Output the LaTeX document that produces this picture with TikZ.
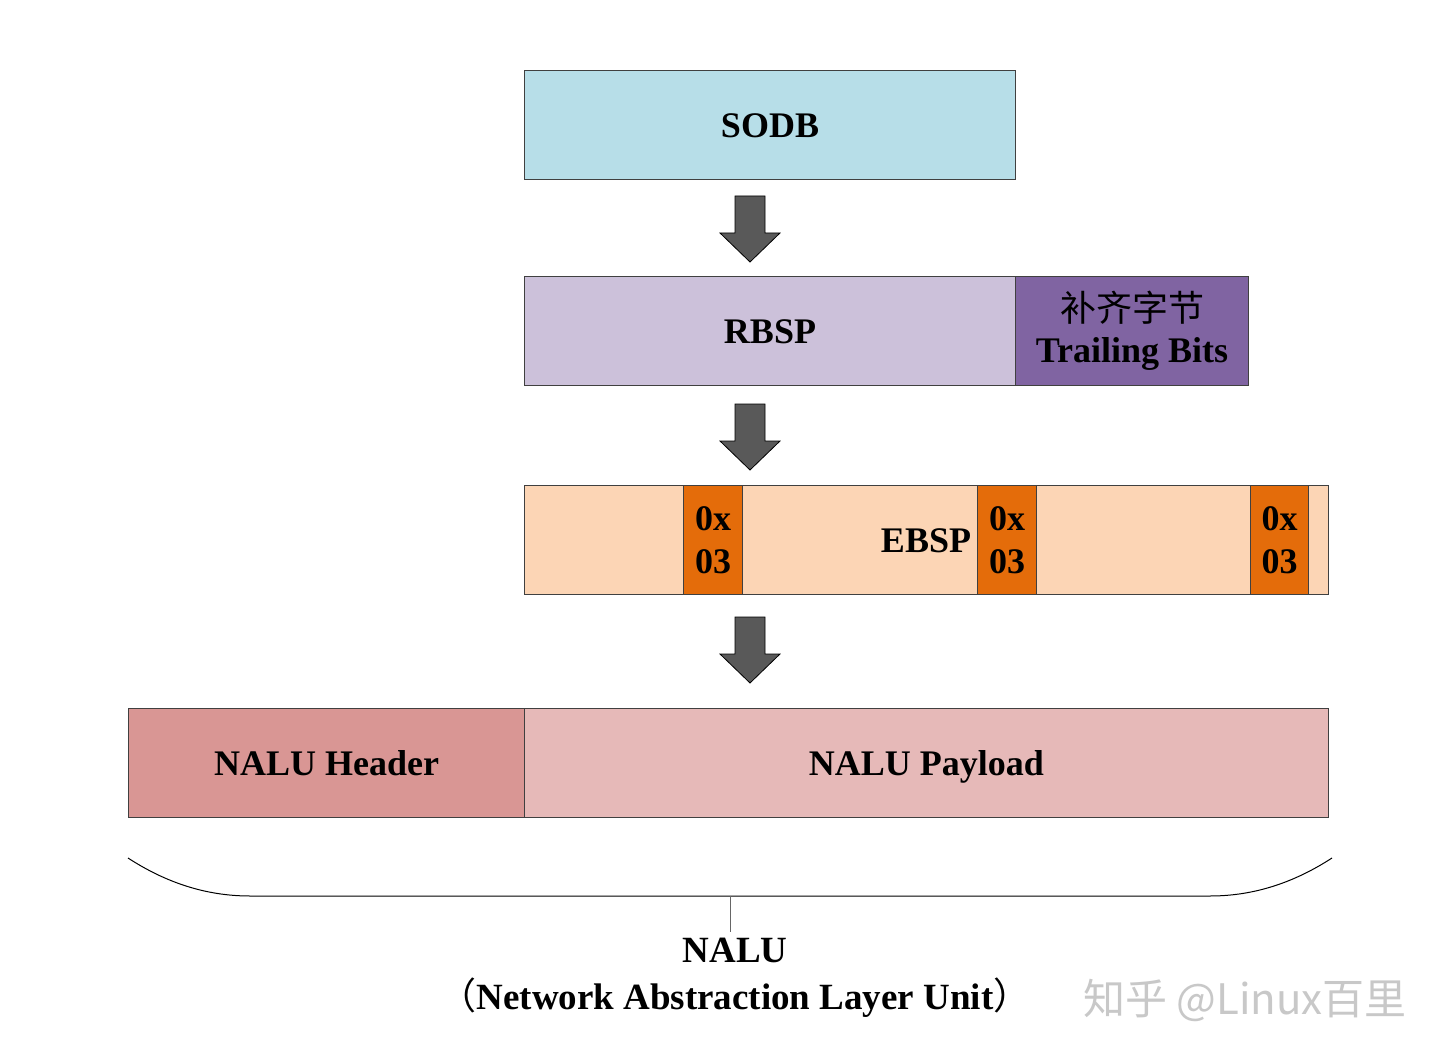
\documentclass[tikz,border=0pt]{standalone}
\usepackage{fontspec}
\setmainfont{Liberation Serif}
\newfontfamily\cjk{Noto Sans CJK SC}
\definecolor{sodbc}{HTML}{B7DEE8}
\definecolor{rbspc}{HTML}{CCC1DA}
\definecolor{trailc}{HTML}{8064A2}
\definecolor{ebspc}{HTML}{FCD5B5}
\definecolor{orangec}{HTML}{E46C0A}
\definecolor{headc}{HTML}{D99694}
\definecolor{payc}{HTML}{E6B9B8}
\definecolor{arrowc}{HTML}{595959}
\definecolor{wmc}{HTML}{C8C8C8}
\tikzset{
  box/.style={draw=black!75, line width=1pt, anchor=north west, inner sep=0pt, align=center,
    font=\fontsize{36}{43}\selectfont\bfseries},
  oneline/.style={text height=30pt, text depth=5pt},
  blockarrow/.style={draw=black, line width=0.8pt, fill=arrowc},
  bigtext/.style={font=\fontsize{37}{44}\selectfont\bfseries, inner sep=0pt}
}
\newcommand{\blockarrowat}[1]{%
  \draw[blockarrow] ($(#1)+(-15,-33)$) -- ($(#1)+(15,-33)$) -- ($(#1)+(15,4)$) -- ($(#1)+(30,4)$)
   -- ($(#1)+(0,33)$) -- ($(#1)+(-30,4)$) -- ($(#1)+(-15,4)$) -- cycle;}
\usetikzlibrary{calc}
\begin{document}
\begin{tikzpicture}[x=1pt,y=-1pt]
\useasboundingbox[fill=white] (0,0) rectangle (1451,1059);
% boxes
\node[box, oneline, fill=sodbc, minimum width=491pt, minimum height=109pt] (sodb) at (524,70) {SODB};
\node[box, oneline, fill=rbspc, minimum width=491pt, minimum height=109pt] (rbsp) at (524,276) {RBSP};
\node[box, fill=trailc, minimum width=233pt, minimum height=109pt] (trail) at (1015,276)
  {{\cjk\mdseries 补齐字节}\\[-2pt]Trailing Bits};
\node[box, fill=ebspc, minimum width=804pt, minimum height=109pt] (ebsp) at (524,485) {};
\node[inner sep=0pt, oneline, font=\fontsize{36}{43}\selectfont\bfseries] (ebsptext) at (926,540) {EBSP};
\node[box, fill=orangec, minimum width=59pt, minimum height=109pt] (ox1) at (683,485) {0x\\03};
\node[box, fill=orangec, minimum width=59pt, minimum height=109pt] (ox2) at (977,485) {0x\\03};
\node[box, fill=orangec, minimum width=58pt, minimum height=109pt] (ox3) at (1250,485) {0x\\03};
\node[box, oneline, fill=headc, minimum width=396pt, minimum height=109pt] (head) at (128,708) {NALU Header};
\node[box, oneline, fill=payc, minimum width=804pt, minimum height=109pt] (pay) at (524,708) {NALU Payload};
% block arrows
\coordinate (a1) at (750,229);
\coordinate (a2) at (750,437);
\coordinate (a3) at (750,650);
\blockarrowat{a1}
\blockarrowat{a2}
\blockarrowat{a3}
% brace
\coordinate (bl) at (128,858);
\coordinate (br) at (1332,858);
\coordinate (bm) at (730,896);
\coordinate (bt) at (730,932);
\draw[line width=1pt, black] (bl) .. controls (165,882) and (205,896) .. (250,896) -- (1210,896)
  .. controls (1255,896) and (1295,882) .. (br);
\draw[line width=1pt, black!60] (bm) -- (bt);
% labels
\node[bigtext] (nalu) at (735,950) {NALU};
\node[bigtext] (nalufull) at (735,998) {{\cjk\mdseries （}Network Abstraction Layer Unit{\cjk\mdseries ）}};
\node[inner sep=0pt, text=wmc, font=\cjk\fontsize{42}{50}\selectfont] (wm) at (1245,1000) {知乎 @Linux百里};
\end{tikzpicture}
\end{document}
